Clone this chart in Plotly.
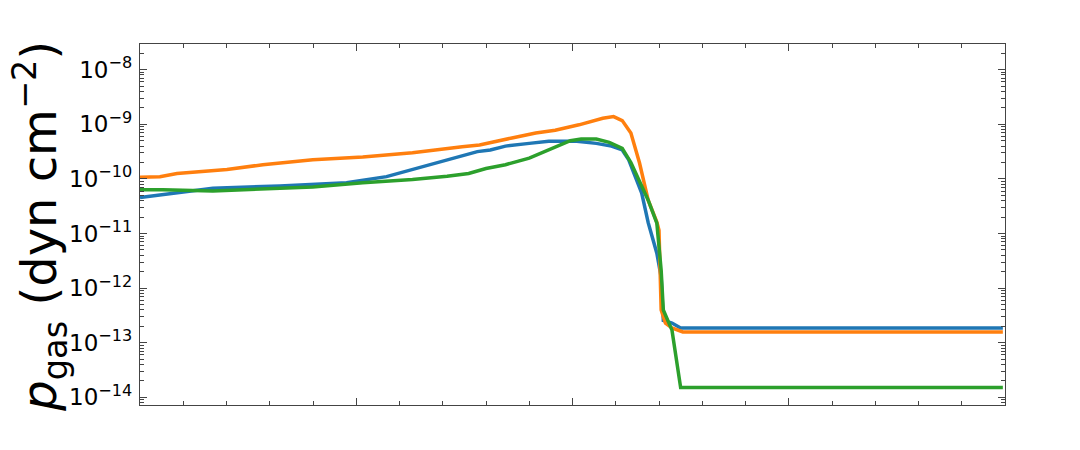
import plotly.graph_objects as go

# radius-like coordinate (arbitrary units, 4 major divisions)
x_blue = [0, 0.106, 0.337, 0.646, 0.955, 1.14, 1.26, 1.37, 1.46, 1.56, 1.62, 1.69, 1.80,
          1.89, 2.02, 2.11, 2.18, 2.23, 2.26, 2.32, 2.35, 2.39, 2.41, 2.42, 2.46, 2.50, 3.99]
p_blue = [4.57e-11, 5.13e-11, 6.76e-11, 7.41e-11, 8.51e-11, 1.10e-10, 1.48e-10, 1.95e-10,
          2.40e-10, 3.16e-10, 3.39e-10, 3.98e-10, 4.47e-10, 4.90e-10, 4.90e-10, 4.47e-10,
          3.98e-10, 3.39e-10, 2.24e-10, 5.50e-11, 1.58e-11, 4.37e-12, 1.58e-12, 2.57e-13,
          2.29e-13, 1.86e-13, 1.86e-13]

x_orange = [0, 0.092, 0.171, 0.402, 0.568, 0.799, 1.03, 1.26, 1.49, 1.57, 1.72, 1.83, 1.92,
            2.03, 2.14, 2.19, 2.23, 2.27, 2.31, 2.35, 2.39, 2.40, 2.41, 2.43, 2.46, 2.51, 3.99]
p_orange = [1.07e-10, 1.10e-10, 1.26e-10, 1.48e-10, 1.82e-10, 2.24e-10, 2.51e-10, 3.02e-10,
            3.89e-10, 4.17e-10, 5.62e-10, 6.92e-10, 7.76e-10, 9.77e-10, 1.29e-9, 1.38e-9,
            1.17e-9, 6.92e-10, 1.95e-10, 4.07e-11, 1.62e-11, 1.15e-11, 3.98e-13, 2.29e-13,
            1.86e-13, 1.58e-13, 1.58e-13]

x_green = [0, 0.106, 0.337, 0.568, 0.799, 1.03, 1.26, 1.42, 1.52, 1.60, 1.69, 1.80, 1.86,
           1.95, 1.99, 2.04, 2.11, 2.17, 2.23, 2.27, 2.32, 2.35, 2.39, 2.41, 2.42, 2.46, 2.50, 3.99]
p_green = [6.31e-11, 6.31e-11, 6.03e-11, 6.46e-11, 7.08e-11, 8.51e-11, 9.77e-11, 1.12e-10,
           1.26e-10, 1.55e-10, 1.82e-10, 2.40e-10, 3.02e-10, 4.17e-10, 5.01e-10, 5.37e-10,
           5.37e-10, 4.68e-10, 3.63e-10, 2.00e-10, 7.08e-11, 4.07e-11, 1.55e-11, 2.14e-12,
           3.98e-13, 1.70e-13, 1.51e-14, 1.51e-14]

SERIES = [
    (x_blue, p_blue, "#1f77b4"),
    (x_orange, p_orange, "#ff7f0e"),
    (x_green, p_green, "#2ca02c"),
]

# y tick decades and their labels
y_exponents = [-14, -13, -12, -11, -10, -9, -8]
y_tickvals = [10.0 ** e for e in y_exponents]
y_ticktext = [f"10<sup>−{-e}</sup>" for e in y_exponents]
# minor ticks on the log axis: 2..9 within each decade
minor_y = [m * 10.0 ** e for e in range(-15, -7) for m in range(2, 10)]

fig = go.Figure()
for xs, ys, color in SERIES:
    fig.add_trace(go.Scatter(x=xs, y=ys, mode="lines",
                             line=dict(color=color, width=3.5), showlegend=False))

axis_common = dict(
    showline=True, linecolor="#444444", linewidth=1.3, mirror="ticks",
    ticks="inside", ticklen=7, tickwidth=1, tickcolor="#444444",
    showgrid=False, zeroline=False,
)
fig.update_xaxes(range=[0, 4], dtick=1, showticklabels=False,
                 minor=dict(ticks="inside", ticklen=4, dtick=0.2, tickcolor="#444444"),
                 **axis_common)
fig.update_yaxes(type="log", range=[-14.14, -7.53],
                 tickmode="array", tickvals=y_tickvals, ticktext=y_ticktext,
                 tickfont=dict(size=23, color="black"), ticklabelstandoff=2,
                 minor=dict(ticks="inside", ticklen=4, tickmode="array", tickvals=minor_y,
                            tickcolor="#444444"),
                 **axis_common)
fig.add_annotation(
    text="<i>p</i><sub>gas</sub> (dyn cm<sup>−2</sup>)",
    textangle=-90, font=dict(size=48, color="black"),
    xref="paper", yref="paper", x=-100 / 865, y=0.494,
    xanchor="center", yanchor="middle", showarrow=False,
)
# the page body adds an 8px offset, so the figure is 8px smaller than the window
fig.update_layout(
    width=1072, height=442,
    margin=dict(l=132, r=75, t=36, b=45),
    plot_bgcolor="white", paper_bgcolor="white",
    font=dict(family="DejaVu Sans", color="black"),
)
fig.write_html("out.html")
